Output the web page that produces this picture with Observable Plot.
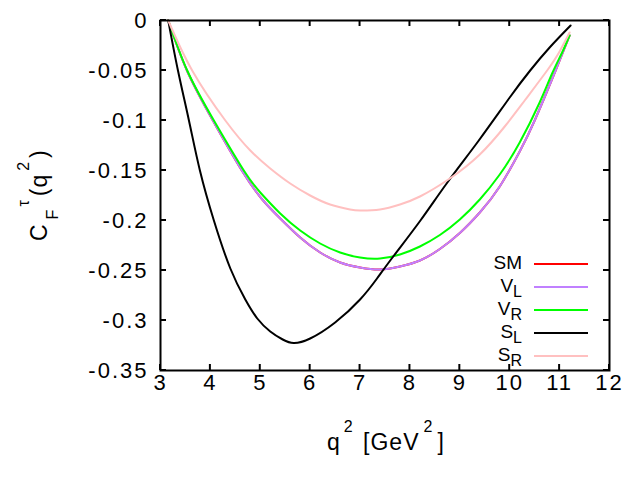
<!DOCTYPE html>
<html>
<head>
<meta charset="utf-8">
<script src="https://cdn.jsdelivr.net/npm/d3@7"></script>
<script src="https://cdn.jsdelivr.net/npm/@observablehq/plot@0.6"></script>
<style>
  body { margin: 0; background: white; }
  svg { display: block; }
</style>
</head>
<body>
<div id="chart"></div>
<script>
// ---- data ----
const xTicks = [3, 4, 5, 6, 7, 8, 9, 10, 11, 12];
const yTicks = [0, -0.05, -0.1, -0.15, -0.2, -0.25, -0.3, -0.35];
const yTickLabels = ["0", "-0.05", "-0.1", "-0.15", "-0.2", "-0.25", "-0.3", "-0.35"];

const qVL = [3.155, 3.53, 4.05, 4.63, 5.04, 5.4, 5.8, 6.2, 6.6, 7.0, 7.4, 7.8, 8.2, 8.6, 9.0, 9.4, 9.8, 10.2, 10.5, 10.92, 11.2];
const cVL = [0, -0.05, -0.1, -0.15, -0.179, -0.198, -0.217, -0.232, -0.242, -0.247, -0.249, -0.246, -0.24, -0.2285, -0.2125, -0.192, -0.166, -0.131, -0.1, -0.05, -0.015];

const qSM = qVL;
const cSM = cVL;

const qVR = [3.155, 3.535, 4.07, 4.67, 5.0, 5.4, 5.8, 6.2, 6.6, 7.0, 7.4, 7.8, 8.2, 8.6, 9.0, 9.4, 9.8, 10.2, 10.6, 10.85, 11.05, 11.2];
const cVR = [0, -0.05, -0.1, -0.15, -0.172, -0.193, -0.21, -0.223, -0.232, -0.237, -0.238, -0.234, -0.226, -0.2145, -0.199, -0.179, -0.154, -0.122, -0.082, -0.053, -0.032, -0.015];

const qSL = [3.155, 3.35, 3.57, 3.79, 4.07, 4.4, 4.7, 4.94, 5.2, 5.45, 5.67, 6.0, 6.5, 7.0, 7.34, 7.68, 8.21, 8.75, 9.38, 10.0, 10.41, 10.8, 11.22];
const cSL = [0, -0.05, -0.1, -0.15, -0.2, -0.248, -0.279, -0.298, -0.311, -0.319, -0.3225, -0.318, -0.302, -0.279, -0.258, -0.235, -0.2, -0.162, -0.12, -0.077, -0.05, -0.027, -0.005];

const qSR = [3.155, 3.635, 4.3, 4.8, 5.2, 5.6, 6.0, 6.4, 6.8, 7.0, 7.4, 7.8, 8.2, 8.8, 9.4, 9.9, 10.3, 10.75, 11.0, 11.2];
const cSR = [0, -0.05, -0.1, -0.13, -0.148, -0.163, -0.175, -0.184, -0.189, -0.19, -0.189, -0.184, -0.176, -0.158, -0.134, -0.106, -0.08, -0.05, -0.031, -0.012];

const seriesNames = ["SM", "V_L", "V_R", "S_L", "S_R"];
const seriesColors = ["#ff0000", "#c080ff", "#00ff00", "#000000", "#ffc0c0"];
const seriesQ = [qSM, qVL, qVR, qSL, qSR];
const seriesC = [cSM, cVL, cVR, cSL, cSR];
const legendMain = ["SM", "V", "V", "S", "S"];
const legendSub = ["", "L", "R", "L", "R"];

// ---- build table ----
const rows = [];
seriesNames.forEach((name, i) => {
  seriesQ[i].forEach((q, j) => rows.push({series: name, q, c: seriesC[i][j]}));
});

const FONT = "'Liberation Sans', Arial, Helvetica, sans-serif";

const lineMarks = seriesNames.map((name, i) =>
  Plot.line(rows.filter(d => d.series === name), {
    x: "q", y: "c", stroke: seriesColors[i], strokeWidth: 2, curve: "natural"
  })
);

const TICK = 6;

const chart = Plot.plot({
  width: 640,
  height: 480,
  marginLeft: 160,
  marginRight: 31,
  marginTop: 20,
  marginBottom: 110,
  style: {fontFamily: FONT, fontSize: "22px", color: "black", background: "white", letterSpacing: "2px"},
  x: {domain: [3, 12]},
  y: {domain: [-0.35, 0]},
  marks: [
    ...lineMarks,
    Plot.axisX(xTicks, {anchor: "bottom", tickSize: 0, tickPadding: 4, label: null, fontSize: 22}),
    Plot.axisY(yTicks, {anchor: "left", tickSize: 0, tickPadding: 12, label: null, fontSize: 22,
      tickFormat: d => yTickLabels[yTicks.indexOf(d)]}),
    Plot.frame({stroke: "black", strokeWidth: 2})
  ]
});

document.getElementById("chart").appendChild(chart);

const svg = d3.select(chart);

// ---- inward ticks on all four sides, positioned through Plot's own scales ----
const sx = chart.scale("x"), sy = chart.scale("y");
const [xLeft, xRight] = sx.range;
const [yBottom, yTop] = sy.range;
const tickG = svg.append("g").attr("stroke", "black").attr("stroke-width", 2);
xTicks.forEach(v => {
  const px = sx.apply(v);
  tickG.append("line").attr("x1", px).attr("x2", px).attr("y1", yBottom).attr("y2", yBottom - TICK);
  tickG.append("line").attr("x1", px).attr("x2", px).attr("y1", yTop).attr("y2", yTop + TICK);
});
yTicks.forEach(v => {
  const py = sy.apply(v);
  tickG.append("line").attr("y1", py).attr("y2", py).attr("x1", xLeft).attr("x2", xLeft + TICK);
  tickG.append("line").attr("y1", py).attr("y2", py).attr("x1", xRight).attr("x2", xRight - TICK);
});

// ---- titles and legend ----
// y axis title: C_F^tau(q^2)
const yl = svg.append("text")
  .attr("transform", "translate(47,241) rotate(-90)")
  .attr("text-anchor", "start")
  .attr("font-family", FONT)
  .attr("font-size", 23)
  .attr("letter-spacing", "1px")
  .attr("fill", "black");
yl.append("tspan").text("C");
yl.append("tspan").attr("dx", 4).attr("dy", 11).attr("font-size", 16).text("F");
yl.append("tspan").attr("dx", 2).attr("dy", -29).attr("font-size", 16).text("τ");
yl.append("tspan").attr("dx", 3).attr("dy", 18).text("(q");
yl.append("tspan").attr("dx", 3).attr("dy", -18).attr("font-size", 16).text("2");
yl.append("tspan").attr("dx", 3).attr("dy", 18).text(")");

// x axis title: q^2 [GeV^2]
const xl = svg.append("text")
  .attr("x", 327).attr("y", 450)
  .attr("text-anchor", "start")
  .attr("font-family", FONT)
  .attr("font-size", 23)
  .attr("letter-spacing", "1px")
  .attr("fill", "black");
xl.append("tspan").text("q");
xl.append("tspan").attr("dx", 3).attr("dy", -18).attr("font-size", 16).text("2");
xl.append("tspan").attr("dx", 2).attr("dy", 18).text(" [GeV");
xl.append("tspan").attr("dx", 4).attr("dy", -18).attr("font-size", 16).text("2");
xl.append("tspan").attr("dx", 4).attr("dy", 18).text("]");

// legend
seriesNames.forEach((name, i) => {
  const yy = 264 + i * 23;
  const t = svg.append("text")
    .attr("x", 522).attr("y", yy + 4.5)
    .attr("text-anchor", "end")
    .attr("font-family", FONT)
    .attr("font-size", 19)
    .attr("letter-spacing", "0px")
    .attr("fill", "black");
  t.append("tspan").text(legendMain[i]);
  if (legendSub[i]) t.append("tspan").attr("dy", 5).attr("font-size", 16).text(legendSub[i]);
  svg.append("line")
    .attr("x1", 534).attr("x2", 588)
    .attr("y1", yy).attr("y2", yy)
    .attr("stroke", seriesColors[i]).attr("stroke-width", 2);
});
</script>
</body>
</html>
